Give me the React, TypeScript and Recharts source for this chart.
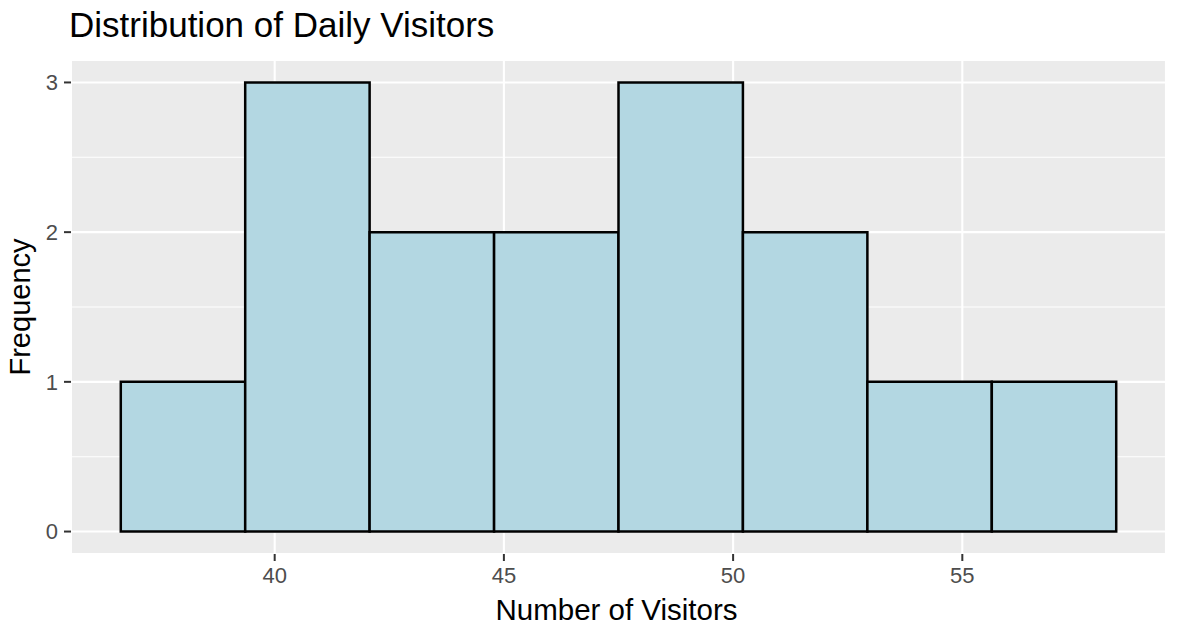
import React from "react";
import {
  CartesianGrid,
  ComposedChart,
  Label,
  ReferenceArea,
  XAxis,
  YAxis,
} from "recharts";

// histogram: 8 bins over the visitor counts (min 38, max 57)
const binStarts = [36.643, 39.357, 42.071, 44.786, 47.5, 50.214, 52.929, 55.643];
const binEnds = [39.357, 42.071, 44.786, 47.5, 50.214, 52.929, 55.643, 58.357];
const counts = [1, 3, 2, 2, 3, 2, 1, 1];

const xTicks = [40, 45, 50, 55];
const xMinorTicks = [37.5, 42.5, 47.5, 52.5, 57.5];
const yTicks = [0, 1, 2, 3];
const yMinorTicks = [0.5, 1.5, 2.5];

const xDomain: [number, number] = [35.557, 59.443];
const yDomain: [number, number] = [-0.15, 3.15];

const bins = binStarts.map((start, i) => ({
  start,
  end: binEnds[i],
  mid: (start + binEnds[i]) / 2,
  count: counts[i],
}));

const FONT = "'Liberation Sans', Arial, Helvetica, sans-serif";

export default function App() {
  return (
    <div style={{ position: "relative", width: 1177, height: 632, margin: -8, background: "#fff" }}>
      <div
        style={{
          position: "absolute",
          left: 69,
          top: 7,
          fontFamily: FONT,
          fontSize: 35,
          lineHeight: "35px",
          color: "#000",
          whiteSpace: "nowrap",
        }}
      >
        Distribution of Daily Visitors
      </div>
      <ComposedChart
        width={1177}
        height={632}
        data={bins}
        margin={{ top: 60, right: 11, bottom: 0, left: 0 }}
      >
        {/* minor grid lines on hidden axes */}
        <XAxis xAxisId="minor" type="number" domain={xDomain} ticks={xMinorTicks} hide allowDataOverflow />
        <YAxis yAxisId="minor" type="number" domain={yDomain} ticks={yMinorTicks} hide allowDataOverflow />
        <CartesianGrid
          xAxisId="minor"
          yAxisId="minor"
          fill="#EBEBEB"
          fillOpacity={1}
          stroke="#FFFFFF"
          strokeWidth={1.1}
        />
        <CartesianGrid stroke="#FFFFFF" strokeWidth={2.1} />
        <XAxis
          dataKey="mid"
          type="number"
          domain={xDomain}
          ticks={xTicks}
          allowDataOverflow
          height={78}
          axisLine={false}
          tickSize={7}
          tickMargin={6}
          tickLine={{ stroke: "#333333", strokeWidth: 2 }}
          tick={{ fill: "#4D4D4D", fontSize: 22, fontFamily: FONT }}
        >
          <Label
            content={(props: any) => {
              const vb = props.viewBox || {};
              return (
                <text
                  x={vb.x + vb.width / 2 - 2}
                  y={vb.y + 65.5}
                  textAnchor="middle"
                  fill="#000"
                  fontSize={29.5}
                  fontFamily={FONT}
                >
                  Number of Visitors
                </text>
              );
            }}
          />
        </XAxis>
        <YAxis
          type="number"
          domain={yDomain}
          ticks={yTicks}
          allowDataOverflow
          width={71}
          axisLine={false}
          tickSize={7}
          tickMargin={6}
          tickLine={{ stroke: "#333333", strokeWidth: 2 }}
          tick={{ fill: "#4D4D4D", fontSize: 22, fontFamily: FONT }}
        >
          <Label
            content={(props: any) => {
              const vb = props.viewBox || {};
              const cx = 30;
              const cy = vb.y + vb.height / 2;
              return (
                <text
                  x={cx}
                  y={cy}
                  transform={`rotate(-90, ${cx}, ${cy})`}
                  textAnchor="middle"
                  fill="#000"
                  fontSize={29}
                  fontFamily={FONT}
                >
                  Frequency
                </text>
              );
            }}
          />
        </YAxis>
        {bins.map((b) => (
          <ReferenceArea
            key={b.start}
            x1={b.start}
            x2={b.end}
            y1={0}
            y2={b.count}
            fill="#B3D7E2"
            fillOpacity={1}
            stroke="#000000"
            strokeWidth={2.5}
            ifOverflow="visible"
          />
        ))}
      </ComposedChart>
    </div>
  );
}
